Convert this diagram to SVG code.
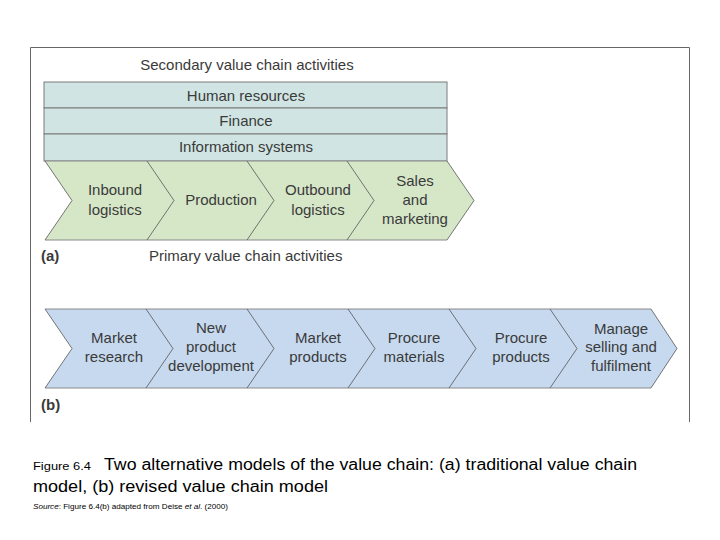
<svg xmlns="http://www.w3.org/2000/svg" width="720" height="540" viewBox="0 0 720 540">
<style>
.lbl{font-family:"Liberation Sans",Arial,sans-serif;font-size:15px;fill:#3a3a3a;text-anchor:middle}
.bar{fill:#d0e5e3;stroke:#7a7a7a;stroke-width:1}
.g{fill:#d6e7c8;stroke:none}
.b{fill:#c6d9ee;stroke:none}
.sep{fill:none;stroke:#555;stroke-width:0.8}
.edge{fill:none;stroke:#8a8a8a;stroke-width:1}
.cap{font-family:"Liberation Sans",Arial,sans-serif;fill:#000}
</style>
<rect width="720" height="540" fill="#fff"/>
<path d="M30.5,422 V47.5 H689.5 V422" fill="none" stroke="#666" stroke-width="1"/>
<text class="lbl" x="247" y="70">Secondary value chain activities</text>
<g id="secondary">
<g id="hr"><rect class="bar" x="44" y="82" width="403" height="26"/><text class="lbl" x="246" y="101">Human resources</text></g>
<g id="finance"><rect class="bar" x="44" y="108" width="403" height="26"/><text class="lbl" x="246" y="126">Finance</text></g>
<g id="is"><rect class="bar" x="44" y="134" width="403" height="27"/><text class="lbl" x="246" y="152">Information systems</text></g>
</g>
<g id="primary-a">
<path class="g" d="M45,161 H447 L474,200.5 L447,240 H45 L72,200.5 Z"/>
<path class="edge" d="M45,161 H447 M45,240 H447"/>
<path class="sep" d="M45,161 L72,200.5 L45,240 M147,161 L174,200.5 L147,240 M247,161 L274,200.5 L247,240 M347,161 L374,200.5 L347,240 M447,161 L474,200.5 L447,240"/>
<g id="inbound"><text class="lbl" x="115" y="195">Inbound</text><text class="lbl" x="115" y="215">logistics</text></g>
<g id="production"><text class="lbl" x="221" y="205">Production</text></g>
<g id="outbound"><text class="lbl" x="318" y="195">Outbound</text><text class="lbl" x="318" y="215">logistics</text></g>
<g id="sales"><text class="lbl" x="415" y="186">Sales</text><text class="lbl" x="415" y="205">and</text><text class="lbl" x="415" y="224">marketing</text></g>
</g>
<text class="lbl" x="41" y="261" style="text-anchor:start;font-weight:bold">(a)</text>
<text class="lbl" x="149" y="261" style="text-anchor:start">Primary value chain activities</text>
<g id="primary-b">
<path class="b" d="M45,309 H651 L677,348.5 L651,388 H45 L72,348.5 Z"/>
<path class="edge" d="M45,309 H651 M45,388 H651"/>
<path class="sep" d="M45,309 L72,348.5 L45,388 M146,309 L173,348.5 L146,388 M247,309 L274,348.5 L247,388 M348,309 L375,348.5 L348,388 M449,309 L476,348.5 L449,388 M550,309 L577,348.5 L550,388 M651,309 L677,348.5 L651,388"/>
<g id="mresearch"><text class="lbl" x="114" y="343">Market</text><text class="lbl" x="114" y="362">research</text></g>
<g id="npd"><text class="lbl" x="211" y="333">New</text><text class="lbl" x="211" y="352">product</text><text class="lbl" x="211" y="371">development</text></g>
<g id="mproducts"><text class="lbl" x="318" y="343">Market</text><text class="lbl" x="318" y="362">products</text></g>
<g id="pmaterials"><text class="lbl" x="414" y="343">Procure</text><text class="lbl" x="414" y="362">materials</text></g>
<g id="pproducts"><text class="lbl" x="521" y="343">Procure</text><text class="lbl" x="521" y="362">products</text></g>
<g id="manage"><text class="lbl" x="621" y="334">Manage</text><text class="lbl" x="621" y="352">selling and</text><text class="lbl" x="621" y="371">fulfilment</text></g>
</g>
<text class="lbl" x="41" y="410" style="text-anchor:start;font-weight:bold">(b)</text>
<text class="cap" x="33" y="470" font-size="11" textLength="58" lengthAdjust="spacingAndGlyphs">Figure 6.4</text>
<text class="cap" x="104" y="470" font-size="16" textLength="533" lengthAdjust="spacingAndGlyphs">Two alternative models of the value chain: (a) traditional value chain</text>
<text class="cap" x="33" y="492" font-size="16" textLength="295" lengthAdjust="spacingAndGlyphs">model, (b) revised value chain model</text>
<text class="cap" x="33" y="509" font-size="7" textLength="195" lengthAdjust="spacingAndGlyphs"><tspan font-style="italic">Source</tspan>: Figure 6.4(b) adapted from Deise <tspan font-style="italic">et al</tspan>. (2000)</text>
</svg>
